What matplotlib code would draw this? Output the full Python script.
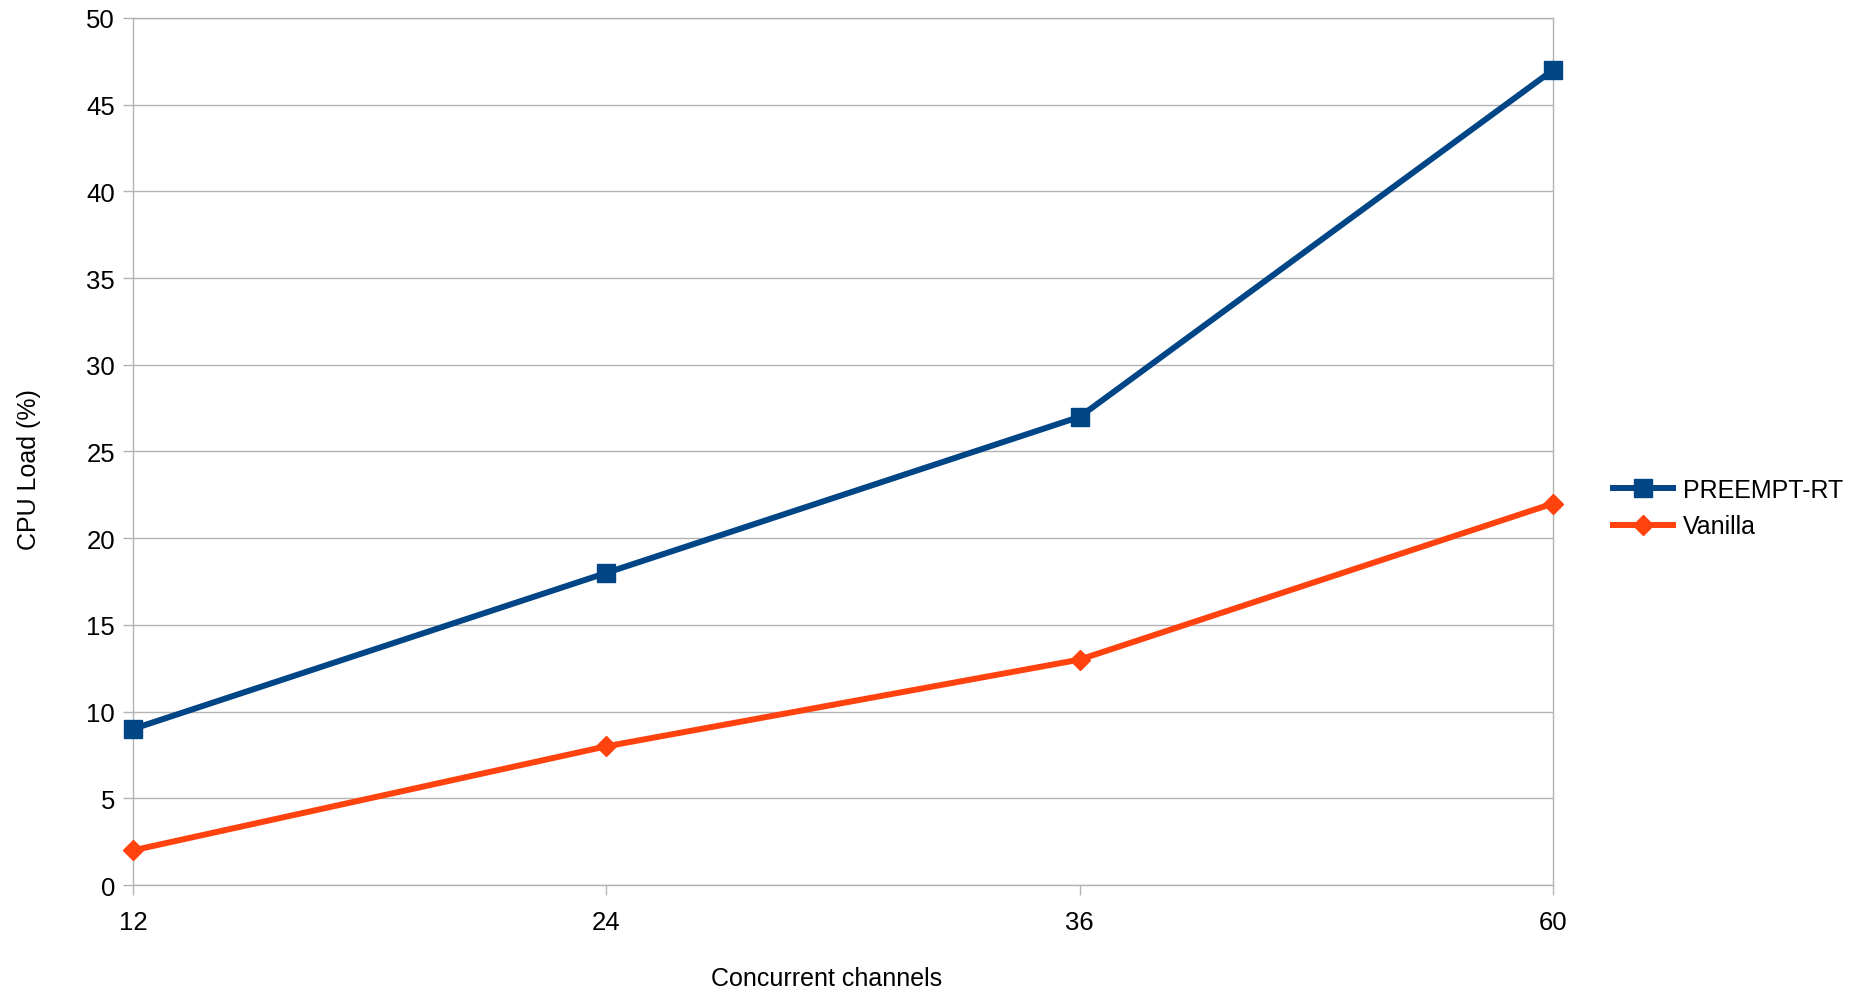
import matplotlib.pyplot as plt

channels = ['12', '24', '36', '60']
preempt_rt = [9, 18, 27, 47]
vanilla = [2, 8, 13, 22]

plt.rcParams['font.family'] = ['Liberation Sans', 'DejaVu Sans']

fig = plt.figure(figsize=(18.6, 9.95), dpi=100)
ax = fig.add_axes([0.0715, 0.1095, 0.7635, 0.8715])

x = list(range(len(channels)))
ax.plot(x, preempt_rt, color='#004586', lw=4.3, marker='s', ms=13.5,
        label='PREEMPT-RT', clip_on=False, zorder=4)
ax.plot(x, vanilla, color='#ff420e', lw=4.3, marker='D', ms=10,
        label='Vanilla', clip_on=False, zorder=3)

ax.set_xlim(0, len(channels) - 1)
ax.set_ylim(0, 50)
ax.set_xticks(x)
ax.set_xticklabels(channels)
ax.set_yticks(range(0, 51, 5))
ax.grid(axis='y', color='#b3b3b3', lw=1)
ax.set_axisbelow(True)
for s in ax.spines.values():
    s.set_color('#b3b3b3')
    s.set_linewidth(1)
ax.tick_params(axis='both', colors='#b3b3b3', labelcolor='black',
               labelsize=18.5, length=7, width=1)
ax.tick_params(axis='x', pad=11)
ax.tick_params(axis='y', pad=6)

fig.text(0.4446, 0.016, 'Concurrent channels', ha='center', va='center', fontsize=18)
fig.text(0.0155, 0.528, 'CPU Load (%)', ha='center', va='center',
         rotation=90, fontsize=18)

fig.legend(loc='upper left', bbox_to_anchor=(0.867, 0.519), frameon=False,
           fontsize=18, handlelength=2.4, handletextpad=0.4, labelspacing=0.51,
           borderpad=0, borderaxespad=0)

fig.savefig('out.png', dpi=100)
